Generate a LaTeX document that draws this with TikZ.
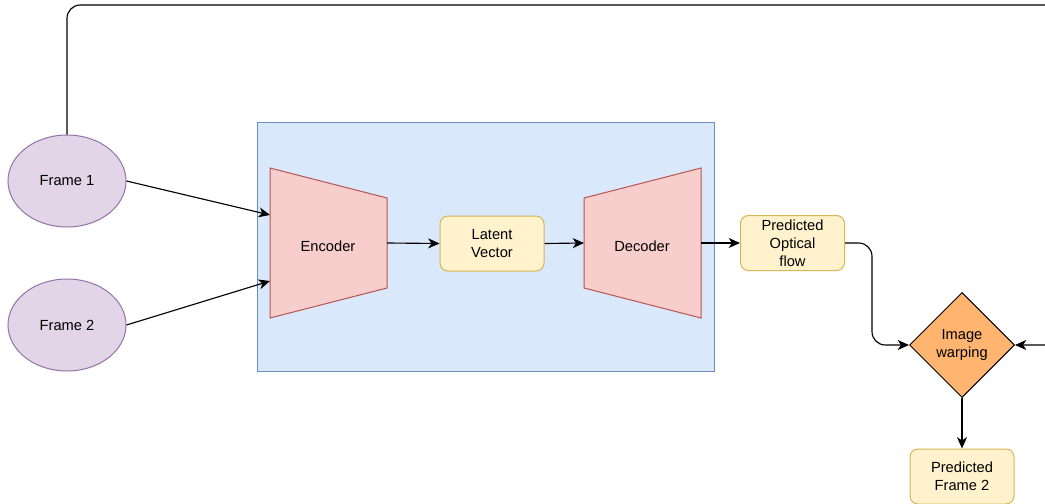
\documentclass[tikz,border=0pt]{standalone}
\usepackage{fontspec}
\setmainfont{Liberation Sans}
\usetikzlibrary{arrows.meta,shapes.geometric}
\definecolor{purpfill}{HTML}{E1D5E7}
\definecolor{purpline}{HTML}{9673A6}
\definecolor{bluefill}{HTML}{DAE8FC}
\definecolor{blueline}{HTML}{6C8EBF}
\definecolor{redfill}{HTML}{F8CECC}
\definecolor{redline}{HTML}{B85450}
\definecolor{yelfill}{HTML}{FFF2CC}
\definecolor{yelline}{HTML}{D6B656}
\definecolor{orfill}{HTML}{FFB570}
\tikzset{
  frameell/.style={ellipse, draw=purpline, fill=purpfill, line width=0.75pt, minimum width=88.5pt, minimum height=69pt, inner sep=0pt},
  groupbox/.style={draw=blueline, fill=bluefill, line width=0.75pt, minimum width=342.75pt, minimum height=186.75pt, inner sep=0pt},
  trap/.style={draw=redline, fill=redfill, line width=0.75pt},
  yelbox/.style={draw=yelline, fill=yelfill, line width=0.75pt, rounded corners=6pt, minimum width=78pt, minimum height=41.25pt, align=center, inner sep=0pt},
  warpbox/.style={diamond, draw=black, fill=orfill, line width=0.75pt, minimum width=78.75pt, minimum height=78.75pt, align=center, inner sep=0pt},
  conn/.style={draw=black, line width=0.85pt, -{Stealth[length=8.5pt,width=7.5pt,inset=2.5pt]}},
  lbl/.style={align=center, inner sep=0pt}
}
\begin{document}
\begin{tikzpicture}[x=0.75pt,y=-0.75pt,font=\fontsize{11}{13.5}\selectfont]
\useasboundingbox (0,0) rectangle (1045,503);
\node[frameell] (f1) at (67,181) {Frame 1};
\node[frameell] (f2) at (67,325) {Frame 2};
\node[groupbox] (grp) at (485.5,246.5) {};
\draw[trap] (270,168) -- (387,198) -- (387,288) -- (270,318) -- cycle;
\draw[trap] (584,198) -- (701,168) -- (701,318) -- (584,288) -- cycle;
\node[lbl] (enc) at (328,246) {Encoder};
\node[lbl] (dec) at (642,246) {Decoder};
\coordinate (encin1) at (270,215);
\coordinate (encin2) at (270,281);
\coordinate (encout) at (387,243);
\coordinate (decin) at (584,243);
\coordinate (decout) at (701,243);
\node[yelbox] (lat) at (492,243.5) {Latent\\Vector};
\node[yelbox] (pof) at (792.5,243) {Predicted\\Optical\\flow};
\node[warpbox] (warp) at (962,345) {Image\\warping};
\node[yelbox] (pf2) at (962,476.5) {Predicted\\Frame 2};
\coordinate (offright) at (1070,5);
\draw[conn] (f1.east) -- (encin1);
\draw[conn] (f2.east) -- (encin2);
\draw[conn] (encout) -- (lat.west);
\draw[conn] (lat.east) -- (decin);
\draw[conn] (decout) -- (pof.west);
\draw[conn, rounded corners=10pt] (pof.east) -| (872,300) |- (warp.west);
\draw[conn, rounded corners=10pt] (f1.north) |- (offright) |- (warp.east);
\draw[conn] (warp.south) -- (pf2.north);
\end{tikzpicture}
\end{document}
